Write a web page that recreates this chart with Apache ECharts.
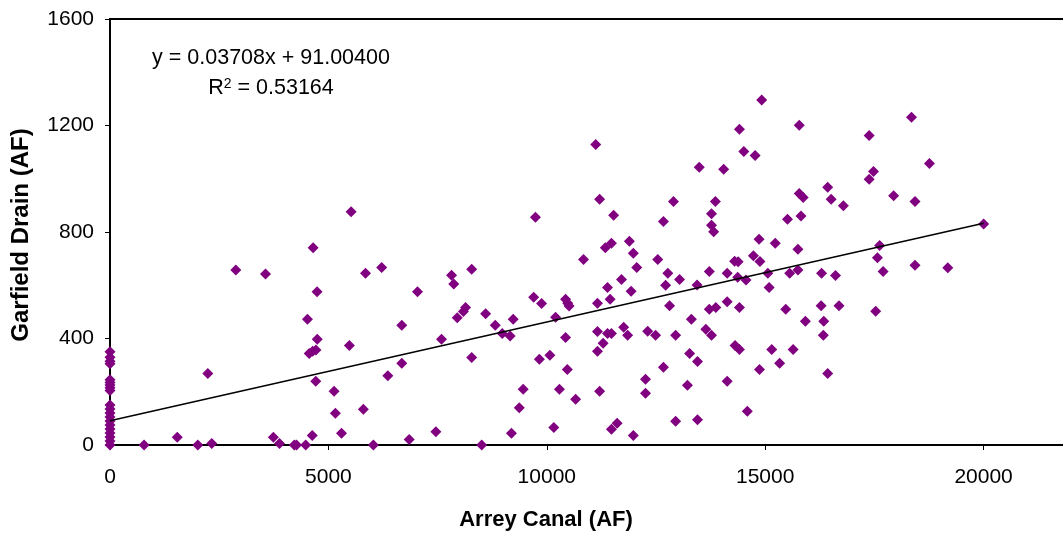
<!DOCTYPE html>
<html>
<head>
<meta charset="utf-8">
<script src="https://cdn.jsdelivr.net/npm/echarts/dist/echarts.min.js"></script>
<style>
  html, body { margin: 0; padding: 0; background: #fff; width: 1063px; height: 533px; overflow: hidden; }
  #chart { width: 1210px; height: 533px; }
</style>
</head>
<body>
<div id="chart"></div>
<script>
// Arrey Canal (AF) vs Garfield Drain (AF)
var arreyCanal = [
  0, 0, 0, 0, 0, 0, 0, 0, 0, 0, 0, 0, 0, 0, 0, 0, 0, 0, 0, 0,
  780, 1540, 2010, 2330, 2240, 2880, 3560, 3740, 3880, 4220, 4270, 4480, 4630, 4520, 4650, 4740,
  4745, 4560, 4640, 4715, 4710, 5130, 5160, 5300, 5520, 5480, 5800, 5850, 6220, 6030, 6680, 6680,
  6360, 7040, 6850, 7460, 7590, 7820, 7870, 8280, 8280, 7950, 8090, 8140, 8600, 8510, 8820, 8980,
  9160, 9230, 9190, 9370, 9460, 9700, 9740, 9880, 9830, 10070, 10160, 10200, 10290, 10430, 10480, 10510,
  10430, 10470, 10660, 10840, 11120, 11160, 11160, 11160, 11210, 11210, 11290, 11340, 11390, 11450, 11480, 11530,
  11390, 11480, 11480, 11610, 11710, 11760, 11850, 11890, 11980, 11930, 11980, 12060, 12540, 12770, 12720, 13040,
  13440, 12810, 13720, 14130, 14380, 14300, 14370, 14560, 14730, 14880, 14860, 15230, 15060, 15090, 15560, 15750,
  15750, 16290, 16610, 17620, 17570, 17700, 18430, 14130, 13720, 13870, 14410, 15470, 16280, 16690, 17530, 13310,
  13640, 13770, 15920, 16340, 16330, 12310, 12490, 12950, 13270, 13450, 12670, 14310, 14410, 15150, 15640, 15330,
  14870, 16430, 12260, 12260, 13220, 14130, 14590, 12950, 13450, 14920, 14410, 15780, 14510, 14770, 13490, 14050,
  17380, 18350, 17480, 17380, 12900, 13860, 13770, 13770, 13820, 12670, 15780, 15870, 16430, 16510, 16790, 17940,
  18430, 15820, 15510, 18760, 20000, 19180
];
var garfieldDrain = [
  350, 330, 315, 305, 245, 235, 225, 215, 205, 150, 135, 120, 105, 90, 75, 60, 45, 30, 15, 0,
  0, 29, 0, 6, 269, 657, 642, 29, 6, 0, 0, 0, 36, 472, 741, 576,
  397, 344, 352, 357, 239, 202, 119, 44, 876, 374, 134, 645, 667, 0, 450, 307,
  260, 576, 21, 50, 397, 638, 605, 660, 329, 478, 501, 516, 493, 0, 450, 419,
  409, 472, 44, 140, 209, 555, 855, 531, 322, 337, 66, 480, 209, 547, 532, 522,
  404, 284, 172, 697, 1129, 532, 426, 352, 202, 923, 382, 741, 592, 547, 758, 863,
  419, 419, 59, 82, 622, 442, 412, 765, 720, 577, 36, 667, 697, 645, 600, 622,
  601, 523, 652, 645, 688, 690, 630, 620, 711, 689, 773, 758, 645, 592, 645, 735,
  657, 645, 637, 749, 703, 652, 675, 538, 510, 516, 516, 510, 523, 523, 502, 472,
  435, 412, 465, 465, 412, 427, 412, 412, 344, 314, 292, 374, 359, 359, 359, 307,
  284, 269, 247, 194, 224, 239, 127, 89, 95, 1296, 1186, 1201, 1102, 1087, 1043, 1036,
  1162, 1231, 1027, 998, 915, 915, 869, 825, 801, 839, 945, 930, 968, 923, 899, 936,
  915, 860, 848, 1057, 830, 666
];
// linear trend line end points
var trendX = [0, 20000];
var trendY = [91, 833];
var xTicks = [0, 5000, 10000, 15000, 20000, 25000];
var yTicks = [0, 400, 800, 1200, 1600];

var points = [];
for (var i = 0; i < arreyCanal.length; i++) {
  points.push([arreyCanal[i], garfieldDrain[i]]);
}
var trend = [];
for (var i = 0; i < trendX.length; i++) {
  trend.push([trendX[i], trendY[i]]);
}

var chart = echarts.init(document.getElementById('chart'));
var font = 'Liberation Sans, Arial, sans-serif';
var option = {
  animation: false,
  backgroundColor: '#fff',
  grid: {
    left: 110,
    right: 8,
    top: 19,
    bottom: 88,
    outerBoundsMode: 'none',
    containLabel: false,
    show: true,
    borderColor: '#000',
    borderWidth: 2
  },
  xAxis: {
    type: 'value',
    min: xTicks[0],
    max: xTicks[xTicks.length - 1],
    interval: 5000,
    axisLine: { show: true, lineStyle: { color: '#000', width: 2 } },
    axisTick: { show: true, inside: false, length: 5, lineStyle: { color: '#000' } },
    axisLabel: {
      color: '#000', fontSize: 21, fontFamily: font, margin: 22,
      formatter: function (v) { return String(v); }
    },
    splitLine: { show: false }
  },
  yAxis: {
    type: 'value',
    min: yTicks[0],
    max: yTicks[yTicks.length - 1],
    interval: 400,
    axisLine: { show: true, lineStyle: { color: '#000', width: 2 } },
    axisTick: { show: true, inside: false, length: 5, lineStyle: { color: '#000' } },
    axisLabel: {
      color: '#000', fontSize: 21, fontFamily: font, margin: 16,
      formatter: function (v) { return String(v); }
    },
    splitLine: { show: false }
  },
  graphic: [
    {
      type: 'text', x: 546, y: 520,
      style: { text: 'Arrey Canal (AF)', font: 'bold 22px ' + font, fill: '#000', textAlign: 'center', textVerticalAlign: 'middle' }
    },
    {
      type: 'text', x: 21, y: 235, rotation: Math.PI / 2,
      style: { text: 'Garfield Drain (AF)', font: 'bold 24px ' + font, fill: '#000', textAlign: 'center', textVerticalAlign: 'middle' }
    },
    {
      type: 'text', x: 271, y: 58,
      style: { text: 'y = 0.03708x + 91.00400', font: '21.5px ' + font, fill: '#000', textAlign: 'center', textVerticalAlign: 'middle' }
    },
    {
      type: 'text', x: 271, y: 88,
      style: {
        text: 'R{sup|2} = 0.53164',
        font: '21.5px ' + font, fill: '#000', textAlign: 'center', textVerticalAlign: 'middle',
        rich: { sup: { fontSize: 14, fontFamily: font, verticalAlign: 'top', padding: [0, 0, 8, 0] } }
      }
    }
  ],
  series: [
    {
      name: 'Garfield Drain',
      type: 'scatter',
      symbol: 'diamond',
      symbolSize: [11, 11],
      itemStyle: { color: '#800080', opacity: 1 },
      data: points,
      z: 2
    },
    {
      name: 'Trend',
      type: 'line',
      showSymbol: false,
      symbol: 'none',
      lineStyle: { color: '#000', width: 1.5 },
      data: trend,
      z: 3
    }
  ]
};
chart.setOption(option);
</script>
</body>
</html>
